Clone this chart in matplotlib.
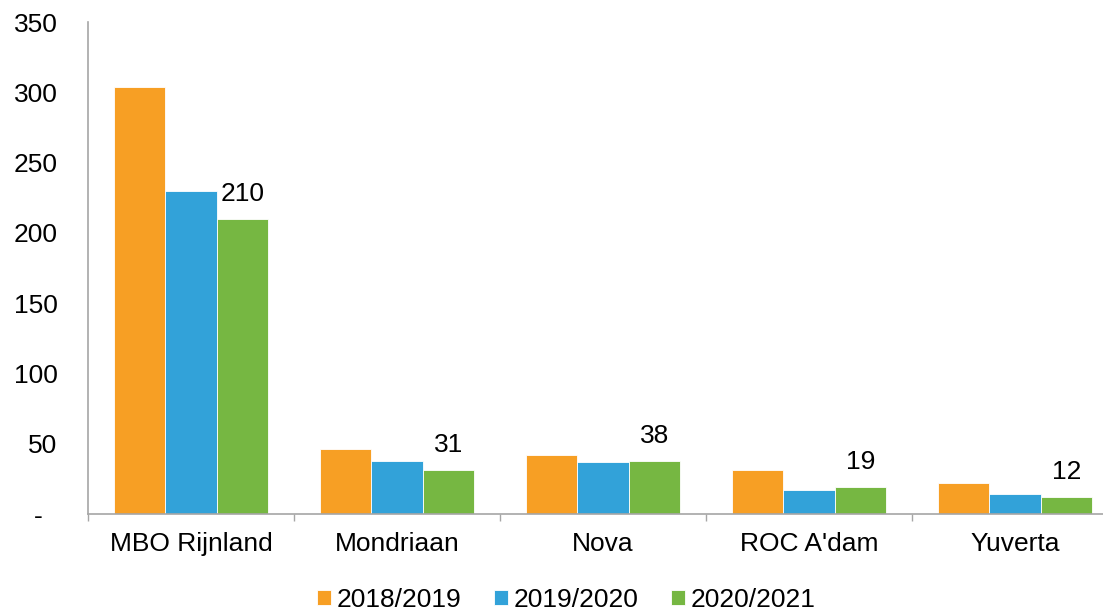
import matplotlib
matplotlib.use("Agg")
import matplotlib.pyplot as plt
import numpy as np

categories = ["MBO Rijnland", "Mondriaan", "Nova", "ROC A'dam", "Yuverta"]
series_names = ["2018/2019", "2019/2020", "2020/2021"]
v2018 = [304, 46, 42, 31, 22]
v2019 = [230, 38, 37, 17, 14]
v2020 = [210, 31, 38, 19, 12]
yticks = [0, 50, 100, 150, 200, 250, 300, 350]
ytick_labels = ["-  ", "50", "100", "150", "200", "250", "300", "350"]

colors = ["#F79F24", "#32A2D9", "#76B742"]
axis_color = "#A6A6A6"

plt.rcParams['font.family'] = ['Liberation Sans', 'DejaVu Sans']
FS = 19

W, H = 1103, 612
fig = plt.figure(figsize=(W / 100, H / 100), dpi=100)
ax = fig.add_axes([88 / W, (H - 514) / H, 1030 / W, (514 - 22) / H])

x = np.arange(len(categories))
bw = 0.25
all_vals = [v2018, v2019, v2020]
bars = []
for i, (vals, name, c) in enumerate(zip(all_vals, series_names, colors)):
    b = ax.bar(x + (i - 1) * bw, vals, width=bw, color=c, label=name,
               edgecolor="white", linewidth=0.6, zorder=2)
    bars.append(b)

for rect, v in zip(bars[2], v2020):
    ax.annotate(f"{v}", (rect.get_x() + rect.get_width() / 2, rect.get_height()),
                xytext=(0, 13), textcoords="offset points",
                ha="center", va="baseline", fontsize=FS, color="black")

ax.set_xlim(-0.5, len(categories) - 0.5)
ax.set_ylim(0, 350)
ax.set_yticks(yticks)
ax.set_yticklabels(ytick_labels, fontsize=FS)
ax.tick_params(axis="y", length=0, pad=22)

ax.set_xticks(x)
ax.set_xticklabels(categories, fontsize=FS)
ax.tick_params(axis="x", which="major", length=0, pad=13)
ax.set_xticks(np.arange(-0.5, len(categories) + 0.5, 1), minor=True)
ax.tick_params(axis="x", which="minor", length=5, width=1, color=axis_color, direction="out")

for s in ["top", "right"]:
    ax.spines[s].set_visible(False)
for s in ["left", "bottom"]:
    ax.spines[s].set_color(axis_color)
    ax.spines[s].set_linewidth(1.2)

fig.legend(loc="center", bbox_to_anchor=(566.5 / W, 1 - 600 / H), ncol=3, frameon=False,
           fontsize=FS, handlelength=0.5, handleheight=0.5, handletextpad=0.23,
           columnspacing=1.25, borderaxespad=0)

fig.savefig("out.png", dpi=100)
